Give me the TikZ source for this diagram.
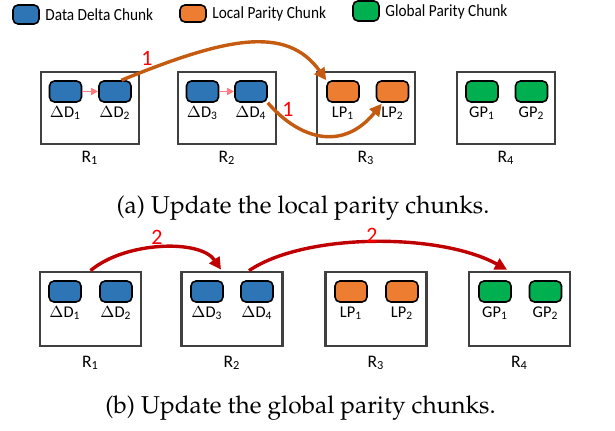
\documentclass[tikz,border=0pt]{standalone}
\usepackage[T1]{fontenc}
\usepackage{fontspec}
\setmainfont{Carlito}
\usetikzlibrary{arrows.meta,calc}
\newcommand\capfont{\fontencoding{T1}\fontfamily{ppl}\selectfont}
\newcommand\legendtext[1]{\scalebox{0.9}[1]{#1}}
\definecolor{deltablue}{HTML}{2E75B6}
\definecolor{lporange}{HTML}{ED7D31}
\definecolor{gpgreen}{HTML}{00B050}
\definecolor{rackgray}{HTML}{404040}
\definecolor{flowbrown}{HTML}{C55A11}
\definecolor{flowred}{HTML}{C00000}
\definecolor{pinkarrow}{HTML}{FF7C80}
\begin{document}
\begin{tikzpicture}[x=0.5pt,y=-0.5pt,
  chunk/.style={draw=black, line width=0.8pt, rounded corners=2.5pt,
    minimum width=16pt, minimum height=10.5pt, inner sep=0pt},
  rack/.style={draw=rackgray, line width=1.35pt, inner sep=0pt},
  racka/.style={rack, minimum width=49pt, minimum height=36pt},
  rackb/.style={rack, minimum width=50.5pt, minimum height=37pt},
  clabel/.style={font=\fontsize{8.2}{10}\selectfont, inner sep=0pt},
  rlabel/.style={font=\fontsize{8.8}{11}\selectfont, inner sep=0pt},
  legtext/.style={font=\fontsize{8.5}{11}\selectfont, anchor=west, inner sep=0pt},
  stepnum/.style={text=red, font=\fontsize{11}{13}\selectfont, inner sep=0pt},
  caption/.style={font=\capfont\fontsize{12.2}{14}\selectfont, inner sep=0pt},
  flow/.style={line width=1.7pt, -{Triangle[length=6pt,width=6pt]}},
  tinyarrow/.style={draw=pinkarrow, line width=0.7pt, -{Triangle[length=3.5pt,width=3.5pt]}}]
\useasboundingbox (0,0) rectangle (615,431);

% legend
\node[chunk, fill=deltablue, minimum width=13pt, minimum height=9.5pt] (legd) at (26,14.5) {};
\node[legtext] (legdt) at (45,14.5) {\legendtext{Data Delta Chunk}};
\node[chunk, fill=lporange, minimum width=13pt, minimum height=8.5pt] (legl) at (193,13.5) {};
\node[legtext] (leglt) at (212,13.5) {\legendtext{Local Parity Chunk}};
\node[chunk, fill=gpgreen, minimum width=13pt, minimum height=10pt] (legg) at (366,11) {};
\node[legtext] (leggt) at (385,11.5) {\legendtext{Global Parity Chunk}};

% (a) racks
\node[racka] (r1a) at (90,108) {};
\node[racka] (r2a) at (227,108) {};
\node[racka] (r3a) at (366,108) {};
\node[racka] (r4a) at (506,108) {};
\node[rlabel] at (90,158) {R\textsubscript{1}};
\node[rlabel] at (227,158) {R\textsubscript{2}};
\node[rlabel] at (366,158) {R\textsubscript{3}};
\node[rlabel] at (506,158) {R\textsubscript{4}};

% (a) chunks
\node[chunk, fill=deltablue] (d1a) at (65.5,91.5) {};
\node[chunk, fill=deltablue] (d2a) at (115,91.5) {};
\node[chunk, fill=deltablue] (d3a) at (202.5,91.5) {};
\node[chunk, fill=deltablue] (d4a) at (251,91.5) {};
\node[chunk, fill=lporange] (lp1a) at (343,91.5) {};
\node[chunk, fill=lporange] (lp2a) at (392.5,91.5) {};
\node[chunk, fill=gpgreen] (gp1a) at (482,91.5) {};
\node[chunk, fill=gpgreen] (gp2a) at (531.5,91.5) {};
\node[clabel] at (65.5,113) {$\Delta$D\textsubscript{1}};
\node[clabel] at (115,113) {$\Delta$D\textsubscript{2}};
\node[clabel] at (202.5,113) {$\Delta$D\textsubscript{3}};
\node[clabel] at (251,113) {$\Delta$D\textsubscript{4}};
\node[clabel] at (343,113) {LP\textsubscript{1}};
\node[clabel] at (392.5,113) {LP\textsubscript{2}};
\node[clabel] at (482,113) {GP\textsubscript{1}};
\node[clabel] at (531.5,113) {GP\textsubscript{2}};

% (a) flows
\draw[tinyarrow] (d1a) -- (d2a);
\draw[tinyarrow] (d3a) -- (d4a);
\draw[flow, flowbrown] (d2a.60) .. controls +(103,-42) and +(-40,-56) .. (lp1a.north west);
\draw[flow, flowbrown] (d4a.south east) .. controls +(33,38) and +(-38,47) .. ($(lp2a.south west)+(6,1)$);
\node[stepnum] at (147,58) {1};
\node[stepnum] at (288,109) {1};

\node[caption] at (303,208) {(a) Update the local parity chunks.};

% (b) racks
\node[rackb] (r1b) at (90.5,309) {};
\node[rackb] (r2b) at (232,309) {};
\node[rackb] (r3b) at (376,309) {};
\node[rackb] (r4b) at (519.5,309) {};
\node[rlabel] at (90.5,363) {R\textsubscript{1}};
\node[rlabel] at (232,363) {R\textsubscript{2}};
\node[rlabel] at (376,363) {R\textsubscript{3}};
\node[rlabel] at (519.5,363) {R\textsubscript{4}};

% (b) chunks
\node[chunk, fill=deltablue] (d1b) at (65,291.5) {};
\node[chunk, fill=deltablue] (d2b) at (116,291.5) {};
\node[chunk, fill=deltablue] (d3b) at (207,291.5) {};
\node[chunk, fill=deltablue] (d4b) at (257,291.5) {};
\node[chunk, fill=lporange] (lp1b) at (351,291.5) {};
\node[chunk, fill=lporange] (lp2b) at (402,291.5) {};
\node[chunk, fill=gpgreen] (gp1b) at (495,291.5) {};
\node[chunk, fill=gpgreen] (gp2b) at (545.5,291.5) {};
\node[clabel] at (65,313) {$\Delta$D\textsubscript{1}};
\node[clabel] at (116,313) {$\Delta$D\textsubscript{2}};
\node[clabel] at (207,313) {$\Delta$D\textsubscript{3}};
\node[clabel] at (257,313) {$\Delta$D\textsubscript{4}};
\node[clabel] at (351,313) {LP\textsubscript{1}};
\node[clabel] at (402,313) {LP\textsubscript{2}};
\node[clabel] at (495,313) {GP\textsubscript{1}};
\node[clabel] at (545.5,313) {GP\textsubscript{2}};

% (b) flows
\draw[flow, flowred] (r1b.north) .. controls +(34,-29) and +(-21,-31) .. ($(r2b.north)+(-11,-1)$);
\draw[flow, flowred] ($(r2b.north)+(17,0)$) .. controls +(56,-38) and +(-67,-37) .. ($(r4b.north)+(-12.5,-1)$);
\node[stepnum] at (157,237) {2};
\node[stepnum] at (372,235) {2};

\node[caption] at (300.5,408) {(b) Update the global parity chunks.};
\end{tikzpicture}
\end{document}
